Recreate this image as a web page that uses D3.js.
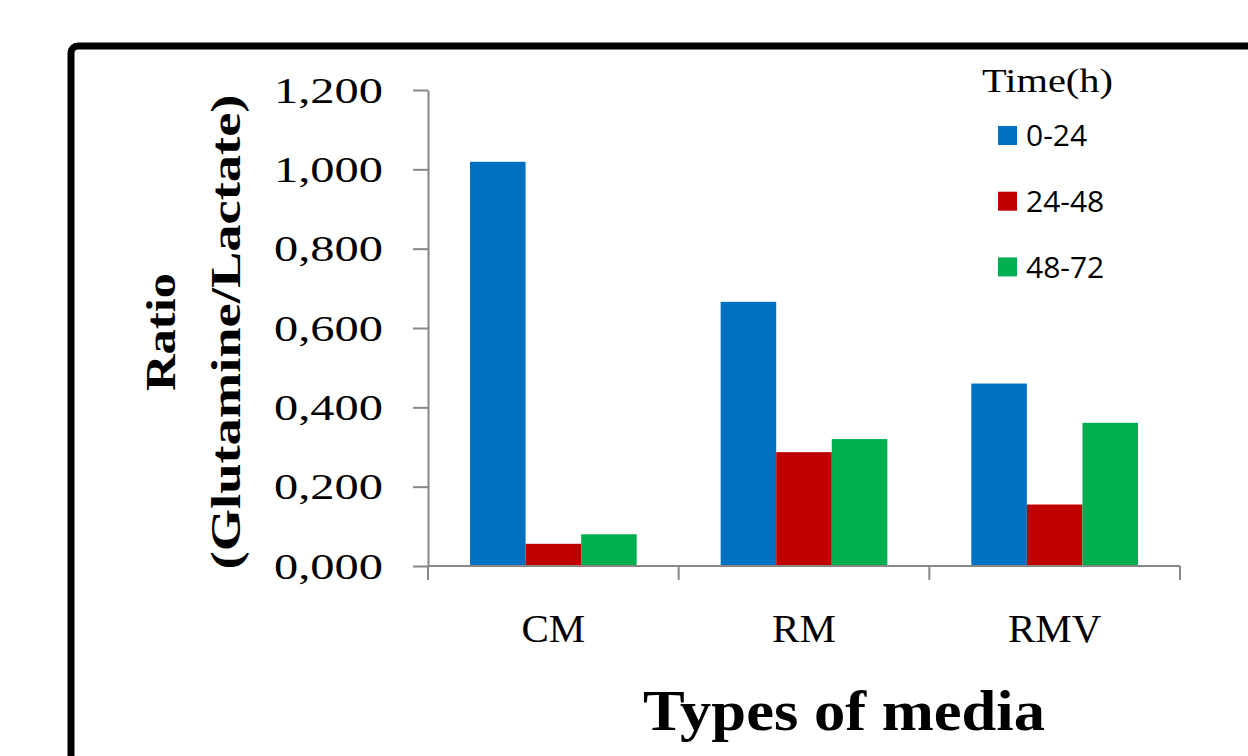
<!DOCTYPE html>
<html>
<head>
<meta charset="utf-8">
<script src="https://cdn.jsdelivr.net/npm/d3@7/dist/d3.min.js"></script>
<style>
  html, body { margin: 0; padding: 0; background: #fff; }
  svg { display: block; }
</style>
</head>
<body>
<svg id="chart" width="1248" height="756"></svg>
<script>
// Glutamine/lactate ratio per medium and time window
const categories = ["CM", "RM", "RMV"];
const seriesNames = ["0-24", "24-48", "48-72"];
const values0to24 = [1.019, 0.666, 0.460];
const values24to48 = [0.056, 0.287, 0.155];
const values48to72 = [0.080, 0.320, 0.361];
const seriesColors = ["#0070C0", "#C00000", "#00B050"];
const yTickValues = [0, 0.2, 0.4, 0.6, 0.8, 1.0, 1.2];

const seriesValues = [values0to24, values24to48, values48to72];
const rows = categories.map((c, i) => ({
  category: c,
  items: seriesNames.map((s, j) => ({ series: s, value: seriesValues[j][i], color: seriesColors[j] }))
}));

const svg = d3.select("#chart");
const serif = "'Liberation Serif', 'Times New Roman', serif";
const sans = "'Open Sans', 'Liberation Sans', sans-serif";
const axisGray = "#878787";

// outer frame
svg.append("rect")
  .attr("x", 71).attr("y", 46)
  .attr("width", 1300).attr("height", 800)
  .attr("rx", 7)
  .attr("fill", "none")
  .attr("stroke", "#000")
  .attr("stroke-width", 7);

const plot = { left: 428, right: 1180, top: 90, bottom: 566 };

const x0 = d3.scaleBand()
  .domain(categories)
  .range([plot.left, plot.right])
  .paddingInner(0.335)
  .paddingOuter(0.1675);

const x1 = d3.scaleBand()
  .domain(seriesNames)
  .range([0, x0.bandwidth()]);

const y = d3.scaleLinear()
  .domain([0, 1.2])
  .range([plot.bottom, plot.top]);

// bars
const groups = svg.append("g").selectAll("g")
  .data(rows)
  .join("g")
  .attr("transform", d => `translate(${x0(d.category)},0)`);

groups.selectAll("rect")
  .data(d => d.items)
  .join("rect")
  .attr("x", d => x1(d.series))
  .attr("y", d => y(d.value))
  .attr("width", x1.bandwidth())
  .attr("height", d => y(0) - y(d.value))
  .attr("fill", d => d.color);

// y axis
const fmt = v => d3.format(".3f")(v).replace(".", ",");
const yAxis = svg.append("g")
  .attr("transform", `translate(${plot.left},0)`)
  .call(d3.axisLeft(y).tickValues(yTickValues).tickFormat(fmt).tickSize(15).tickSizeOuter(0).tickPadding(30));
yAxis.select(".domain").attr("stroke", axisGray).attr("stroke-width", 2);
yAxis.selectAll(".tick line").attr("stroke", axisGray).attr("stroke-width", 2);
yAxis.selectAll(".tick text")
  .attr("fill", "#000")
  .attr("font-family", serif)
  .attr("font-size", 36)
  .attr("dy", "0.34em")
  .attr("textLength", 109)
  .attr("lengthAdjust", "spacingAndGlyphs");

// x axis: baseline, boundary ticks, category labels
const xAxis = svg.append("g").attr("transform", `translate(0,${plot.bottom})`);
xAxis.append("line")
  .attr("x1", plot.left).attr("x2", plot.right)
  .attr("stroke", axisGray).attr("stroke-width", 2);
const step = x0.step();
const boundaries = d3.range(categories.length + 1).map(i => plot.left + i * step);
xAxis.selectAll(".bt")
  .data(boundaries)
  .join("line")
  .attr("x1", d => d).attr("x2", d => d)
  .attr("y1", 0).attr("y2", 14)
  .attr("stroke", axisGray).attr("stroke-width", 2);
xAxis.selectAll(".cat")
  .data(categories)
  .join("text")
  .attr("x", d => x0(d) + x0.bandwidth() / 2)
  .attr("y", 76)
  .attr("text-anchor", "middle")
  .attr("font-family", serif)
  .attr("font-size", 41)
  .attr("fill", "#000")
  .text(d => d);

// axis titles
svg.append("text")
  .attr("x", 844).attr("y", 730)
  .attr("text-anchor", "middle")
  .attr("font-family", serif)
  .attr("font-weight", "bold")
  .attr("font-size", 56)
  .attr("textLength", 402)
  .attr("lengthAdjust", "spacingAndGlyphs")
  .attr("fill", "#000")
  .text("Types of media");

const yTitle = svg.append("g").attr("transform", "translate(0,332) rotate(-90)");
yTitle.append("text")
  .attr("x", 0).attr("y", 175)
  .attr("text-anchor", "middle")
  .attr("font-family", serif)
  .attr("font-weight", "bold")
  .attr("font-size", 42)
  .attr("textLength", 118)
  .attr("lengthAdjust", "spacingAndGlyphs")
  .attr("fill", "#000")
  .text("Ratio");
yTitle.append("text")
  .attr("x", 0).attr("y", 240)
  .attr("text-anchor", "middle")
  .attr("font-family", serif)
  .attr("font-weight", "bold")
  .attr("font-size", 42)
  .attr("textLength", 475)
  .attr("lengthAdjust", "spacingAndGlyphs")
  .attr("fill", "#000")
  .text("(Glutamine/Lactate)");

// legend
const legend = svg.append("g");
legend.append("text")
  .attr("x", 982).attr("y", 92)
  .attr("font-family", serif)
  .attr("font-size", 33)
  .attr("textLength", 131)
  .attr("lengthAdjust", "spacingAndGlyphs")
  .attr("fill", "#000")
  .text("Time(h)");
const items = legend.selectAll(".item")
  .data(seriesNames.map((s, i) => ({ name: s, color: seriesColors[i] })))
  .join("g")
  .attr("transform", (d, i) => `translate(998,${135.5 + i * 65.7})`);
items.append("rect")
  .attr("x", 0).attr("y", -9.5)
  .attr("width", 19).attr("height", 19)
  .attr("fill", d => d.color);
items.append("text")
  .attr("x", 28).attr("y", 0)
  .attr("dy", "0.36em")
  .attr("font-family", sans)
  .attr("font-size", 30)
  .attr("fill", "#000")
  .text(d => d.name);
</script>
</body>
</html>
